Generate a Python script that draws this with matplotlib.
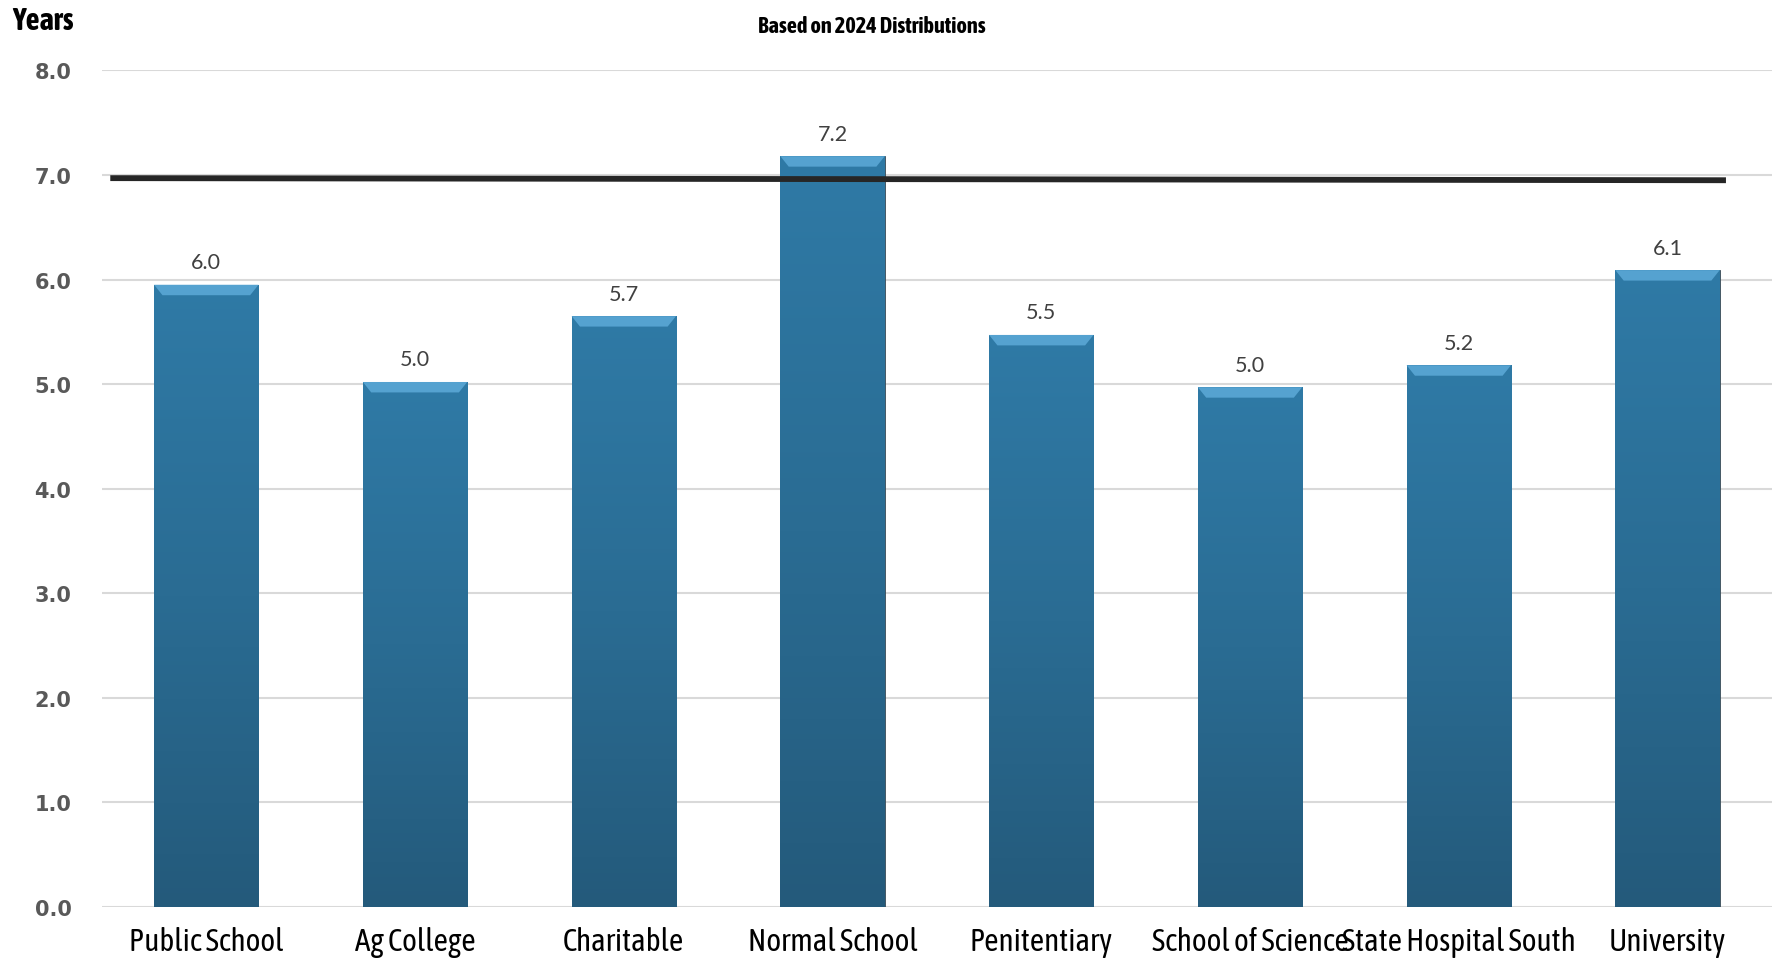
import numpy as np
import matplotlib.pyplot as plt
from matplotlib import font_manager
from matplotlib.colors import LinearSegmentedColormap

categories = ['Public School', 'Ag College', 'Charitable', 'Normal School',
              'Penitentiary', 'School of Science', 'State Hospital South', 'University']
years = [5.95, 5.02, 5.65, 7.18, 5.47, 4.97, 5.18, 6.09]
target_x = [-0.46, 7.28]
target_y = [6.97, 6.95]
yticks = [0.0, 1.0, 2.0, 3.0, 4.0, 5.0, 6.0, 7.0, 8.0]

# look for a condensed face installed on the system, preferring one with a bold cut
fonts = font_manager.fontManager.ttflist
cands = sorted({f.name for f in fonts
                if 'Narrow' in f.name or 'Condensed' in f.name or 'Cond' in f.name
                or f.stretch in ('condensed', 'semi-condensed', 'extra-condensed')})
narrow_name = None
for n in cands:
    weights = [f.weight for f in fonts if f.name == n]
    if any(w in ('bold', 700, 'semibold', 600) for w in weights):
        narrow_name = n
        break
if narrow_name is None and cands:
    narrow_name = cands[0]
narrow = [narrow_name, 'DejaVu Sans'] if narrow_name else ['DejaVu Sans']
stretch = 'condensed'

fig = plt.figure(figsize=(17.79, 9.62), dpi=100)
ax = fig.add_axes([0.0573, 0.0564, 0.9387, 0.8693])

x = np.arange(len(categories))
bars = ax.bar(x, years, width=0.5, color='#2A6C93', edgecolor='#3a4a55',
              linewidth=0.6, zorder=3)

# vertical gradient on each bar
cmap = LinearSegmentedColormap.from_list('bar', ['#245A7B', '#2A6C93', '#2F7AA6'])
grad = np.linspace(0, 1, 256).reshape(-1, 1)
for b in bars:
    bx, bw, bh = b.get_x(), b.get_width(), b.get_height()
    im = ax.imshow(grad, cmap=cmap, aspect='auto', origin='lower',
                   extent=[bx, bx + bw, 0, bh], zorder=3.1)
    im.set_clip_path(b)
    # lighter bevel at the top
    ax.fill([bx, bx + bw, bx + bw - 0.04, bx + 0.04],
            [bh, bh, bh - 0.1, bh - 0.1], color='#55A2D0', zorder=3.2,
            linewidth=0)
    ax.text(bx + bw / 2, bh + 0.12, f'{bh:.1f}', ha='center', va='bottom',
            fontsize=15.5, color='#404040', family=['Lato', 'DejaVu Sans'])

ax.plot(target_x, target_y, color='#262626', linewidth=4.2,
        solid_capstyle='butt', zorder=4)

ax.set_xlim(-0.5, 7.5)
ax.set_ylim(0, 8)
ax.set_yticks(yticks)
ax.set_yticklabels([f'{v:.1f}' for v in yticks], fontsize=15,
                   fontweight='bold', color='#595959')
ax.set_xticks(x)
ax.set_xticklabels(categories, fontsize=22.5, family=narrow, stretch=stretch,
                   color='black')
ax.tick_params(axis='both', length=0)
ax.tick_params(axis='y', pad=22)
ax.tick_params(axis='x', pad=14)
ax.grid(axis='y', color='#d9d9d9', linewidth=1.5, zorder=0)
for s in ax.spines.values():
    s.set_visible(False)

fig.text(0.007, 0.978, 'Years', fontsize=22, fontweight='bold', family=narrow,
         stretch=stretch, ha='left', va='center')
fig.text(0.49, 0.972, 'Based on 2024 Distributions', fontsize=16,
         fontweight='bold', family=narrow, stretch=stretch,
         ha='center', va='center')

plt.savefig('out.png', dpi=100)
